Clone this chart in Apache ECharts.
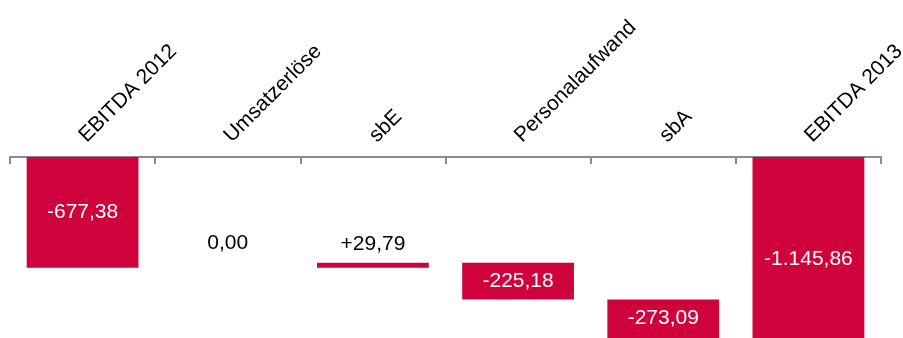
<!DOCTYPE html>
<html>
<head>
<meta charset="utf-8">
<script src="https://cdn.jsdelivr.net/npm/echarts@6/dist/echarts.min.js"></script>
<style>
html,body{margin:0;padding:0;background:#fff;}
#chart{width:903px;height:338px;}
</style>
</head>
<body>
<div id="chart"></div>
<script>
var categories = ['EBITDA 2012', 'Umsatzerlöse', 'sbE', 'Personalaufwand', 'sbA', 'EBITDA 2013'];
var values = [-677.38, 0.00, 29.79, -225.18, -273.09, -1145.86];
var kinds = ['total', 'delta', 'delta', 'delta', 'delta', 'total'];

function fmt(v, sign) {
  var s = Math.abs(v).toFixed(2).split('.');
  var intPart = s[0].replace(/\B(?=(\d{3})+(?!\d))/g, '.');
  var out = intPart + ',' + s[1];
  if (v < 0) out = '-' + out;
  else if (sign && v > 0) out = '+' + out;
  return out;
}

var red = '#cf023c';
var placeholder = [], bars = [];
var running = 0;
for (var i = 0; i < values.length; i++) {
  var v = values[i];
  var lo, hi;
  if (kinds[i] === 'total') { lo = Math.min(0, v); hi = Math.max(0, v); running = v; }
  else { var nxt = running + v; lo = Math.min(running, nxt); hi = Math.max(running, nxt); running = nxt; }
  placeholder.push(hi);
  var item = { value: lo - hi, labelText: fmt(v, kinds[i] === 'delta') };
  if (v >= 0 && kinds[i] === 'delta') {
    item.label = { position: 'top', color: '#000', distance: (v === 0 ? 14 : 8) };
  }
  bars.push(item);
}
bars[5].label = { offset: [0, 9] };
bars[4].label = { offset: [0, -4] };

var chart = echarts.init(document.getElementById('chart'), null, { renderer: 'canvas' });
chart.setOption({
  animation: false,
  backgroundColor: '#fff',
  textStyle: { fontFamily: 'Liberation Sans, Arial, sans-serif' },
  grid: { left: 10, top: 157, width: 871, height: 196, containLabel: false, outerBoundsMode: 'none' },
  xAxis: {
    type: 'category',
    position: 'top',
    data: categories,
    axisLine: { show: true, lineStyle: { color: '#8c8c8c', width: 2 } },
    axisTick: { show: true, inside: true, length: 7, interval: 0, lineStyle: { color: '#8c8c8c', width: 2 } },
    axisLabel: { rotate: 45, margin: 18, color: '#000', fontSize: 21, fontFamily: 'Liberation Sans', interval: 0 }
  },
  yAxis: {
    type: 'value', min: -1200, max: 0, show: false, splitLine: { show: false }
  },
  series: [
    {
      type: 'bar', stack: 'w', data: placeholder, barWidth: '77%',
      itemStyle: { color: 'transparent' }, silent: true
    },
    {
      type: 'bar', stack: 'w', data: bars, barWidth: '77%',
      itemStyle: { color: red },
      label: {
        show: true, position: 'inside', color: '#fff', fontSize: 21,
        fontFamily: 'Liberation Sans',
        formatter: function (p) { return p.data.labelText; }
      }
    }
  ]
});
</script>
</body>
</html>
